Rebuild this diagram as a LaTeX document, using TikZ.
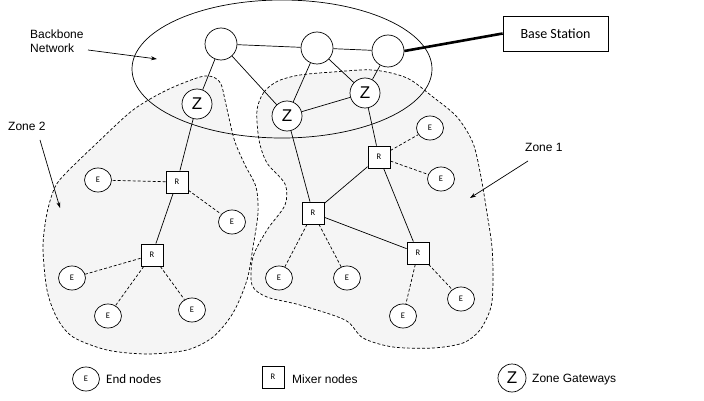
\documentclass[tikz,border=0pt]{standalone}
\usepackage{fontspec}
\setmainfont{Liberation Sans}
\newfontfamily\calfont{Carlito}
\usetikzlibrary{shapes.geometric,arrows.meta}
\begin{document}
\begin{tikzpicture}[x=1pt,y=-1pt,
  zonearea/.style={draw=black,dash pattern=on 3pt off 2pt,fill=black!4,line width=0.7pt},
  bbnode/.style={circle,draw,fill=white,minimum size=32pt,inner sep=0pt,line width=0.7pt},
  gwnode/.style={circle,draw,fill=white,minimum size=30pt,inner sep=0pt,line width=0.7pt,font=\fontsize{17}{19}\selectfont},
  mixnode/.style={rectangle,draw,fill=white,minimum size=22pt,inner sep=0pt,line width=0.8pt,font=\calfont\fontsize{8.5}{9}\selectfont},
  endnode/.style={ellipse,draw,fill=white,minimum width=27pt,minimum height=24pt,inner sep=0pt,line width=0.7pt,font=\calfont\fontsize{8.5}{9}\selectfont},
  link/.style={line width=0.7pt},
  radio/.style={dash pattern=on 3pt off 2pt,line width=0.7pt},
  pointer/.style={-{Stealth[length=6pt,width=4pt]},line width=0.7pt},
  lbl/.style={font=\fontsize{12}{14}\selectfont,inner sep=0pt,anchor=west}]
\useasboundingbox (0,0) rectangle (704,401);

% zone outlines
\draw[zonearea] plot[smooth cycle] coordinates {
  (55,187) (67,172) (97,143) (133,110) (167,90) (200,77) (213,77) (221,84)
  (225,100) (229,118) (235,142) (245,165) (256,187) (258,213) (253,247)
  (247,280) (233,313) (213,337) (187,350) (147,354) (107,350) (73,337)
  (57,318) (47,290) (43,247) (47,213)};
\draw[zonearea] plot[smooth cycle] coordinates {
  (257,110) (264,92) (278,81) (300,75) (333,72) (373,70) (407,78) (433,97)
  (457,117) (473,143) (481,177) (487,213) (492,247) (493,280) (491,307)
  (480,330) (463,343) (433,348) (393,347) (363,338) (345,320) (300,305)
  (267,297) (252,285) (253,257) (267,230) (285,205) (285,184) (267,163)
  (259,140)};

% backbone boundary
\draw[line width=0.7pt] (282,69) ellipse [x radius=150, y radius=69];

% backbone nodes
\node[bbnode] (b1) at (221,44) {};
\node[bbnode] (b2) at (317,48) {};
\node[bbnode] (b3) at (388,51) {};
\node[draw,line width=0.7pt,minimum width=105pt,minimum height=35pt,inner sep=0pt,
      font=\calfont\fontsize{14}{16}\selectfont] (bs) at (555.5,33.5) {Base Station};

% zone gateways
\node[gwnode] (z1) at (197,104) {Z};
\node[gwnode] (z2) at (287,116) {Z};
\node[gwnode] (z3) at (365,93) {Z};

% mixer nodes
\node[mixnode] (r1) at (177,182) {R};
\node[mixnode] (r2) at (152,255) {R};
\node[mixnode] (r3) at (313,213) {R};
\node[mixnode] (r4) at (379,157) {R};
\node[mixnode] (r5) at (418,253) {R};

% end nodes
\node[endnode] (e1) at (98,180) {E};
\node[endnode] (e2) at (232,222) {E};
\node[endnode] (e3) at (72,278) {E};
\node[endnode] (e4) at (108,316) {E};
\node[endnode] (e5) at (192,310) {E};
\node[endnode] (e6) at (430,128) {E};
\node[endnode] (e7) at (441,179) {E};
\node[endnode] (e8) at (279,278) {E};
\node[endnode] (e9) at (347,278) {E};
\node[endnode] (e10) at (403,316) {E};
\node[endnode] (e11) at (461,299) {E};

% wired links
\draw[link] (b1) -- (b2);
\draw[link] (b2) -- (b3);
\draw[link] (b1) -- (z1);
\draw[link] (b1) -- (z2);
\draw[link] (b2) -- (z2);
\draw[link] (b2) -- (z3);
\draw[link] (b3) -- (z3);
\draw[link] (z2) -- (z3);
\draw[line width=2.6pt] (b3.east) -- (bs.west);
\draw[link] (z1) -- (r1);
\draw[link] (r1) -- (r2);
\draw[link] (z2) -- (r3);
\draw[link] (r3) -- (r4);
\draw[link] (z3) -- (r4);
\draw[link] (r4) -- (r5);
\draw[link] (r3) -- (r5);

% radio links
\draw[radio] (r1) -- (e1);
\draw[radio] (r1) -- (e2);
\draw[radio] (r2) -- (e3);
\draw[radio] (r2) -- (e4);
\draw[radio] (r2) -- (e5);
\draw[radio] (r4) -- (e6);
\draw[radio] (r4) -- (e7);
\draw[radio] (r3) -- (e8);
\draw[radio] (r3) -- (e9);
\draw[radio] (r5) -- (e10);
\draw[radio] (r5) -- (e11);

% labels with pointers
\node[lbl,align=left] (bbl) at (30,41) {Backbone\\Network};
\coordinate (bbtip) at (157,59);
\draw[pointer] (88,50) -- (bbtip);
\node[lbl] (z2l) at (8,126) {Zone 2};
\coordinate (z2tip) at (60,208);
\draw[pointer] (40,140) -- (z2tip);
\node[lbl] (z1l) at (525,147) {Zone 1};
\coordinate (z1tip) at (470,198);
\draw[pointer] (528,161) -- (z1tip);

% legend
\node[endnode] (le) at (86,379) {E};
\node[lbl,font=\calfont\fontsize{13}{15}\selectfont] (let) at (106,379) {End nodes};
\node[mixnode] (lr) at (273,377) {R};
\node[lbl] (lrt) at (292,379) {Mixer nodes};
\node[gwnode,minimum size=28pt] (lz) at (512,378) {Z};
\node[lbl] (lzt) at (532,380) {Zone Gateways};
\end{tikzpicture}
\end{document}
